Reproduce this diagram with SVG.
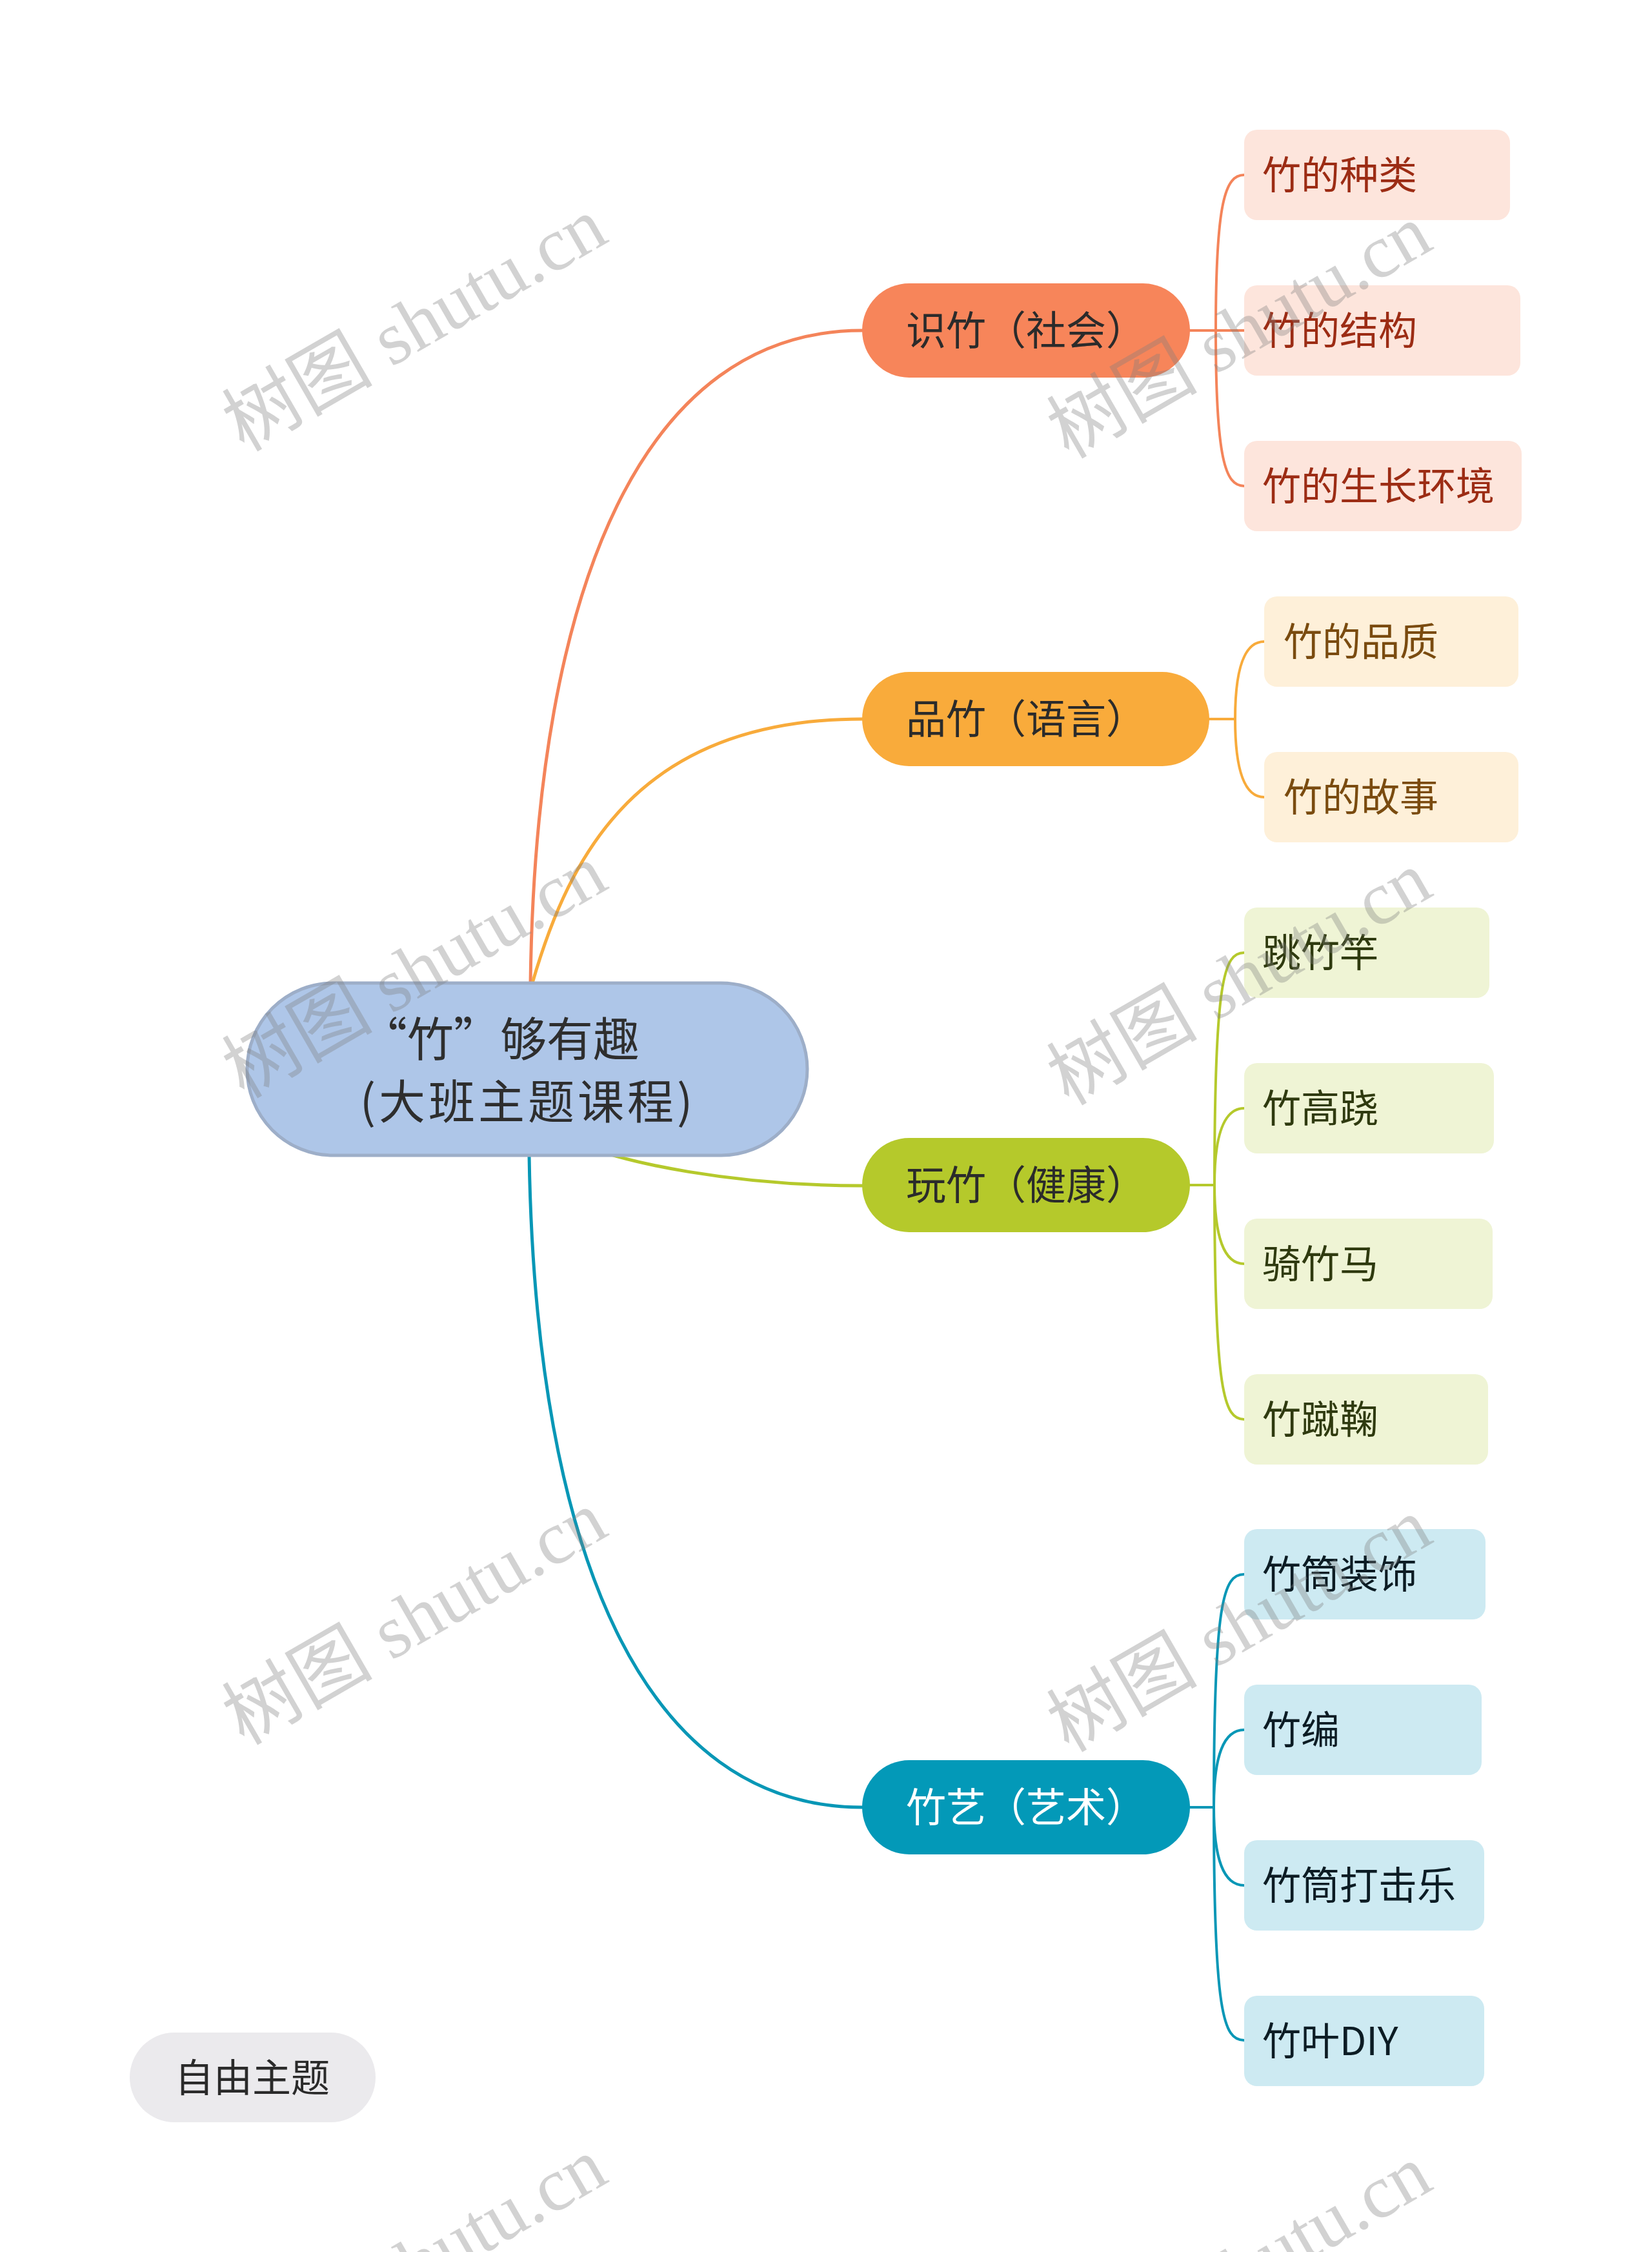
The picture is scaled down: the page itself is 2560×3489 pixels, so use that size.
<svg xmlns="http://www.w3.org/2000/svg" width="2560" height="3489" viewBox="0 0 2560 3489">
<style>
text{font-family:"Noto Sans CJK SC","Noto Sans",sans-serif;}
.root{fill:#aec6e8;stroke:#9daec8;stroke-width:5;}
.rt{font-size:72px;fill:#2e2e2e;}
.bt{font-size:62px;fill:#2b2b2b;}
.lt{font-size:60px;}
.c{fill:none;stroke-width:5;stroke-linecap:round;}
.lc{fill:none;stroke-width:4;stroke-linecap:round;}
.o{stroke:#f4845a;} .y{stroke:#f8ab3b;} .g{stroke:#b5c92c;} .b{stroke:#0897b6;}
.ol{fill:#fde5dc;} .yl{fill:#fef0d9;} .gl{fill:#eff4d5;} .bl{fill:#cdeaf2;}
.ot{fill:#9c2c14;} .yt{fill:#7a4b0f;} .gt{fill:#2f3a0f;} .btx{fill:#0c1c24;}
.wm{font-family:"Liberation Serif","Noto Sans CJK SC",serif;font-size:117px;fill:#7f7f7f;fill-opacity:0.35;}
</style>
<rect width="2560" height="3489" fill="#ffffff"/>
<g id="connectors">
<path class="c o" d="M822,1523 C830,900 1000,512 1336,512"/>
<path class="c y" d="M825,1523 C883,1323 990,1114 1336,1114"/>
<path class="c g" d="M870,1760 C960,1805 1150,1837 1336,1837"/>
<path class="c b" d="M820,1790 C830,2413 1000,2800 1336,2800"/>
<path class="lc o" d="M1844,512 H1928"/>
<path class="lc o" d="M1884,512 C1884,311 1899,271 1928,271"/>
<path class="lc o" d="M1884,512 C1884,713 1899,753 1928,753"/>
<path class="lc y" d="M1874,1114 H1914"/>
<path class="lc y" d="M1914,1114 C1914,1034 1929,994 1959,994"/>
<path class="lc y" d="M1914,1114 C1914,1195 1929,1235 1959,1235"/>
<path class="lc g" d="M1844,1836 H1882"/>
<path class="lc g" d="M1882,1836 C1882,1516 1897,1476 1928,1476"/>
<path class="lc g" d="M1882,1836 C1882,1757 1897,1717 1928,1717"/>
<path class="lc g" d="M1882,1836 C1882,1918 1897,1958 1928,1958"/>
<path class="lc g" d="M1882,1836 C1882,2159 1897,2199 1928,2199"/>
<path class="lc b" d="M1844,2800 H1881"/>
<path class="lc b" d="M1881,2800 C1881,2479 1896,2439 1928,2439"/>
<path class="lc b" d="M1881,2800 C1881,2720 1896,2680 1928,2680"/>
<path class="lc b" d="M1881,2800 C1881,2881 1896,2921 1928,2921"/>
<path class="lc b" d="M1881,2800 C1881,3121 1896,3161 1928,3161"/>
</g>
<g id="root">
<rect class="root" x="383" y="1523" width="868" height="267" rx="133.5"/>
<text class="rt" x="559" y="1636">“竹”够有趣</text>
<text class="rt" x="818" y="1733" text-anchor="middle" letter-spacing="5">(大班主题课程)</text>
</g>
<g id="b1"><rect x="1336" y="439" width="508" height="146" rx="73" fill="#f7855a"/><text class="bt" x="1404" y="535">识竹（社会）</text></g>
<g id="b2"><rect x="1336" y="1041" width="538" height="146" rx="73" fill="#f9ab3b"/><text class="bt" x="1404" y="1137">品竹（语言）</text></g>
<g id="b3"><rect x="1336" y="1763" width="508" height="146" rx="73" fill="#b5c92b"/><text class="bt" x="1404" y="1859">玩竹（健康）</text></g>
<g id="b4"><rect x="1336" y="2727" width="508" height="146" rx="73" fill="#0399b8"/><text class="bt" x="1404" y="2823" style="fill:#ffffff">竹艺（艺术）</text></g>
<g id="l1"><rect class="ol" x="1928" y="201" width="412" height="140" rx="20"/><text class="lt ot" x="1956" y="293">竹的种类</text></g>
<g id="l2"><rect class="ol" x="1928" y="442" width="428" height="140" rx="20"/><text class="lt ot" x="1956" y="534">竹的结构</text></g>
<g id="l3"><rect class="ol" x="1928" y="683" width="430" height="140" rx="20"/><text class="lt ot" x="1956" y="775">竹的生长环境</text></g>
<g id="l4"><rect class="yl" x="1959" y="924" width="394" height="140" rx="20"/><text class="lt yt" x="1989" y="1016">竹的品质</text></g>
<g id="l5"><rect class="yl" x="1959" y="1165" width="394" height="140" rx="20"/><text class="lt yt" x="1989" y="1257">竹的故事</text></g>
<g id="l6"><rect class="gl" x="1928" y="1406" width="380" height="140" rx="20"/><text class="lt gt" x="1956" y="1498">跳竹竿</text></g>
<g id="l7"><rect class="gl" x="1928" y="1647" width="387" height="140" rx="20"/><text class="lt gt" x="1956" y="1739">竹高跷</text></g>
<g id="l8"><rect class="gl" x="1928" y="1888" width="385" height="140" rx="20"/><text class="lt gt" x="1956" y="1980">骑竹马</text></g>
<g id="l9"><rect class="gl" x="1928" y="2129" width="378" height="140" rx="20"/><text class="lt gt" x="1956" y="2221">竹蹴鞠</text></g>
<g id="l10"><rect class="bl" x="1928" y="2369" width="374" height="140" rx="20"/><text class="lt btx" x="1956" y="2461">竹筒装饰</text></g>
<g id="l11"><rect class="bl" x="1928" y="2610" width="368" height="140" rx="20"/><text class="lt btx" x="1956" y="2702">竹编</text></g>
<g id="l12"><rect class="bl" x="1928" y="2851" width="372" height="140" rx="20"/><text class="lt btx" x="1956" y="2943">竹筒打击乐</text></g>
<g id="l13"><rect class="bl" x="1928" y="3092" width="372" height="140" rx="20"/><text class="lt btx" x="1956" y="3184">竹叶DIY</text></g>
<g id="free"><rect x="201" y="3149" width="381" height="139" rx="69.5" fill="#ebeaed"/><text x="391" y="3241" text-anchor="middle" style="font-size:60px;fill:#2a2a2a">自由主题</text></g>
<g id="watermarks">
<text class="wm" x="378" y="701" transform="rotate(-30 378 701)">树图 shutu.cn</text>
<text class="wm" x="1656" y="712" transform="rotate(-30 1656 712)">树图 shutu.cn</text>
<text class="wm" x="378" y="1703" transform="rotate(-30 378 1703)">树图 shutu.cn</text>
<text class="wm" x="1656" y="1714" transform="rotate(-30 1656 1714)">树图 shutu.cn</text>
<text class="wm" x="378" y="2705" transform="rotate(-30 378 2705)">树图 shutu.cn</text>
<text class="wm" x="1656" y="2716" transform="rotate(-30 1656 2716)">树图 shutu.cn</text>
<text class="wm" x="378" y="3707" transform="rotate(-30 378 3707)">树图 shutu.cn</text>
<text class="wm" x="1656" y="3718" transform="rotate(-30 1656 3718)">树图 shutu.cn</text>
</g>
</svg>
